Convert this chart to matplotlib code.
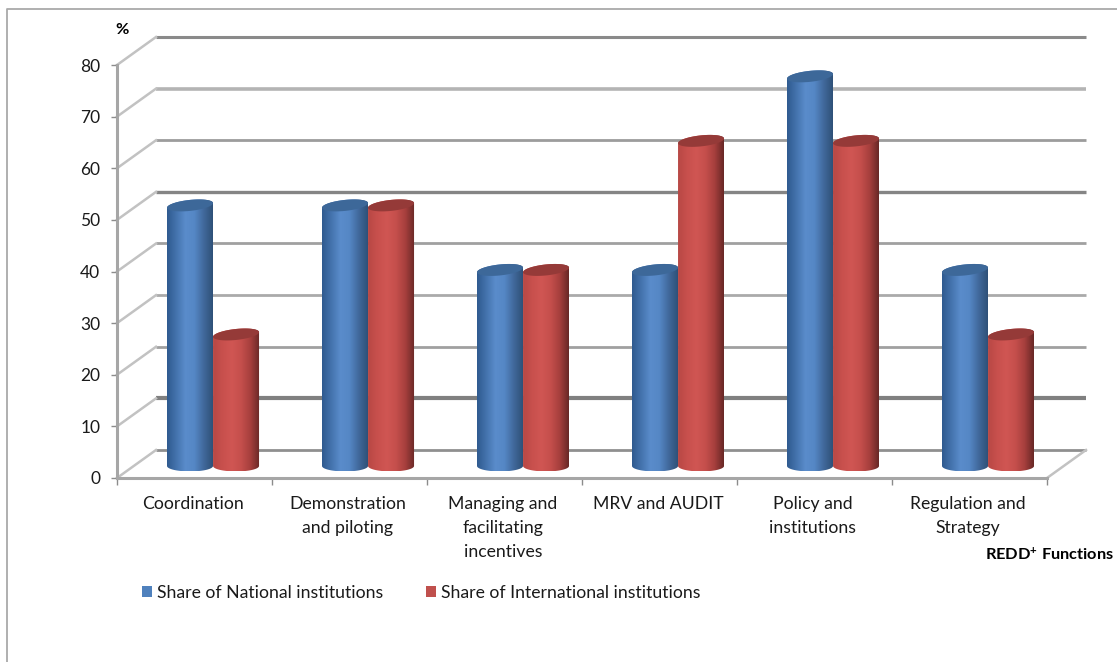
import numpy as np
import matplotlib
matplotlib.use("Agg")
import matplotlib.pyplot as plt
from matplotlib.colors import LinearSegmentedColormap
from matplotlib.lines import Line2D
from matplotlib.patches import Patch, Polygon

categories = [
    "Coordination",
    "Demonstration\nand piloting",
    "Managing and\nfacilitating\nincentives",
    "MRV and AUDIT",
    "Policy and\ninstitutions",
    "Regulation and\nStrategy",
]
national = [50, 50, 37.5, 37.5, 75, 37.5]
international = [25, 50, 37.5, 62.5, 62.5, 25]
y_ticks = [0, 10, 20, 30, 40, 50, 60, 70, 80]
series_names = ["Share of National institutions", "Share of International institutions"]

plt.rcParams["font.family"] = ["Lato", "DejaVu Sans"]
plt.rcParams["mathtext.fontset"] = "custom"
plt.rcParams["mathtext.bf"] = "Lato:bold"
plt.rcParams["mathtext.rm"] = "Lato"

W, H = 1117, 662
fig = plt.figure(figsize=(W / 100, H / 100), dpi=100, facecolor="white")
ax = fig.add_axes([117 / W, 1 - 478 / H, 930 / W, 413 / H])

# Oblique depth of the chart box, in data units
DEPTH_X = 39 / 155
DEPTH_Y = 28 / 5.1625
WALL = "#c2c2c2"

n = len(categories)
grid_widths = {0: 2.0, 10: 3.0, 20: 2.0, 30: 2.0, 40: 2.0, 50: 2.4, 60: 2.0, 70: 2.6, 80: 2.2}
grid_colors = {0: "#8f8f8f", 10: "#808080", 20: "#a0a0a0", 30: "#aaaaaa", 40: "#a0a0a0",
               50: "#858585", 60: "#9c9c9c", 70: "#b4b4b4", 80: "#8a8a8a"}

for v in y_ticks:
    ax.plot([DEPTH_X, n + DEPTH_X], [v + DEPTH_Y] * 2, color=grid_colors[v],
            lw=grid_widths[v], solid_capstyle="butt", clip_on=False, zorder=1)
    ax.plot([0, DEPTH_X], [v, v + DEPTH_Y], color=WALL, lw=1.8, clip_on=False, zorder=1)
ax.plot([n, n + DEPTH_X], [0, DEPTH_Y], color=WALL, lw=1.8, clip_on=False, zorder=1)

blue_map = LinearSegmentedColormap.from_list(
    "blue_cyl", ["#2f5a8f", "#4473ad", "#5a8ccb", "#5587c5", "#41699c", "#2f5178"])
red_map = LinearSegmentedColormap.from_list(
    "red_cyl", ["#b84845", "#c8504d", "#d05653", "#c54f4c", "#a63f3d", "#682826"])

BAR_W = 46 / 155
BASE = 0.43 * DEPTH_Y          # floor position of the cylinders
LIFT = 0.47                    # the caps sit a little above the floor-based height
RY = 5.5 / 5.1625              # vertical semi-axis of the end caps
TILT = 0.45                    # slight lean of the caps


def draw_cylinder(xc, value, cmap, cap_color, z):
    t = np.linspace(0, np.pi, 60)
    a = BAR_W / 2
    top = value + BASE + LIFT
    xs_top = xc + a * np.cos(t)
    ys_top = top + RY * np.sin(t) + TILT * np.cos(t)
    xs_low = xc - a * np.cos(t)
    ys_low = BASE - RY * np.sin(t)
    outline = np.column_stack([np.r_[xs_top, xs_low], np.r_[ys_top, ys_low]])
    body = Polygon(outline, closed=True, transform=ax.transData, fc="none", ec="none")
    ax.add_patch(body)
    img = ax.imshow(np.linspace(0, 1, 128)[None, :], extent=[xc - a, xc + a, BASE - RY, top + RY + TILT],
                    cmap=cmap, aspect="auto", zorder=z, interpolation="bilinear")
    img.set_clip_path(body)
    full = np.linspace(0, 2 * np.pi, 120)
    ax.fill(xc + a * np.cos(full), top + RY * np.sin(full) + TILT * np.cos(full),
            color=cap_color, lw=0, zorder=z + 0.1, clip_on=False)


for i in range(n):
    draw_cylinder(i + 0.471, national[i], blue_map, "#3d6899", 3 + i * 0.01)
    draw_cylinder(i + 0.768, international[i], red_map, "#953a38", 4 + i * 0.01)

ax.set_xlim(0, n)
ax.set_ylim(0, 80)
ax.patch.set_alpha(0)

for side in ("top", "right"):
    ax.spines[side].set_visible(False)
for side in ("left", "bottom"):
    ax.spines[side].set_color("#a6a6a6")
    ax.spines[side].set_linewidth(2.2)
    ax.spines[side].set_zorder(2)

ax.set_yticks(y_ticks)
ax.tick_params(axis="y", length=4, width=1, color="#8c8c8c", labelsize=12.5, pad=8,
               labelcolor="#1a1a1a")
ax.set_xticks(range(n + 1))
ax.set_xticklabels([])
ax.set_xticks(np.arange(n) + 0.49, labels=categories, minor=True, ha="center", va="top",
              linespacing=1.62)
ax.tick_params(axis="x", which="major", length=5, width=1, color="#8c8c8c")
ax.tick_params(axis="x", which="minor", length=0, pad=13, labelsize=12.7, labelcolor="#1a1a1a")

fig.text(122 / W, 1 - 30 / H, "%", fontsize=11.8, fontweight="bold", ha="center", va="center",
         color="black")
fig.text(1114 / W, 1 - 555 / H, r"REDD$\mathbf{^{+}}$ Functions", fontsize=11.8, fontweight="bold",
         ha="right", va="center", color="black")

handles = [Patch(fc="#4f81bd", ec="none"), Patch(fc="#c0504d", ec="none")]
fig.legend(handles, series_names, ncol=2, frameon=False, fontsize=12.7, labelcolor="#1a1a1a",
           loc="center left", bbox_to_anchor=(126 / W, 1 - 593 / H), handlelength=0.57,
           handleheight=0.57, handletextpad=0.28, columnspacing=2.45)

# Outer chart border along the top and left edges
fig.add_artist(Line2D([6.5 / W, 6.5 / W, 1], [0, 1 - 8.5 / H, 1 - 8.5 / H], color="#a9a9a9", lw=1.3,
                      transform=fig.transFigure))

fig.savefig("out.png", dpi=100)
